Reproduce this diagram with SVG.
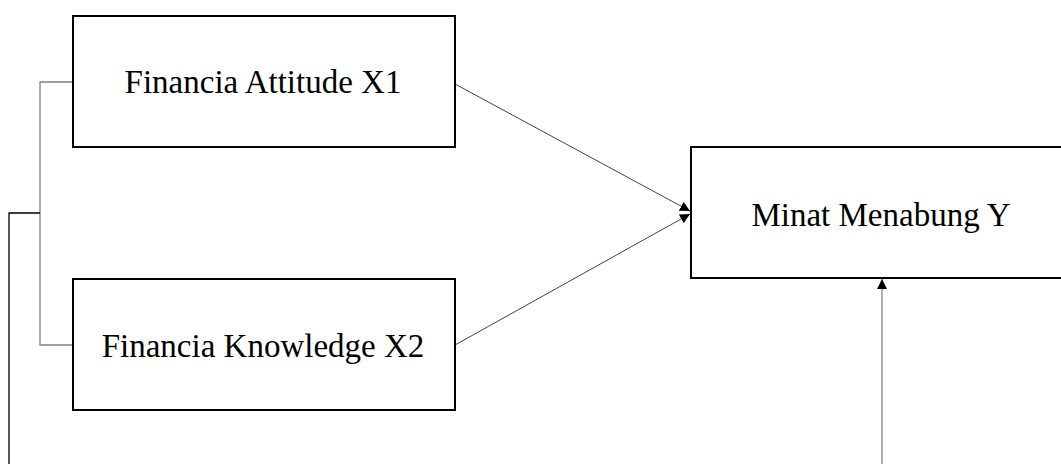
<svg xmlns="http://www.w3.org/2000/svg" width="1061" height="464" viewBox="0 0 1061 464">
  <style>
    .box { fill: #ffffff; stroke: #000000; stroke-width: 2; }
    .label { font-family: "Liberation Serif", "Times New Roman", serif; font-size: 33px; fill: #000000; text-anchor: middle; }
    .link { fill: none; stroke: #444444; stroke-width: 1; }
    .bracket { fill: none; stroke: #808080; stroke-width: 1.3; }
    .feed { fill: none; stroke: #000000; stroke-width: 1.3; }
  </style>
  <defs>
    <marker id="arrow" viewBox="0 0 10 10" refX="10" refY="5" markerWidth="10" markerHeight="10" markerUnits="userSpaceOnUse" orient="auto">
      <path d="M0,0 L10,5 L0,10 Z" fill="#000000"/>
    </marker>
  </defs>

  <g id="connectors">
    <!-- bracket joining the two financial variables -->
    <polyline class="bracket" points="73,82 40,82 40,345 73,345"/>
    <polyline class="feed" points="40,213 9,213 9,464"/>
    <!-- paths into the outcome -->
    <line class="link" x1="455" y1="84" x2="690" y2="211" marker-end="url(#arrow)"/>
    <line class="link" x1="455" y1="345" x2="690" y2="214" marker-end="url(#arrow)"/>
    <line class="bracket" x1="882" y1="464" x2="882" y2="279" marker-end="url(#arrow)"/>
  </g>

  <g id="node-x1">
    <rect class="box" x="73" y="16" width="382" height="131"/>
    <text class="label" x="263" y="93">Financia Attitude X1</text>
  </g>

  <g id="node-x2">
    <rect class="box" x="73" y="279" width="382" height="131"/>
    <text class="label" x="263" y="357">Financia Knowledge X2</text>
  </g>

  <g id="node-y">
    <rect class="box" x="691" y="147" width="380" height="131"/>
    <text class="label" x="881" y="226">Minat Menabung Y</text>
  </g>
</svg>
